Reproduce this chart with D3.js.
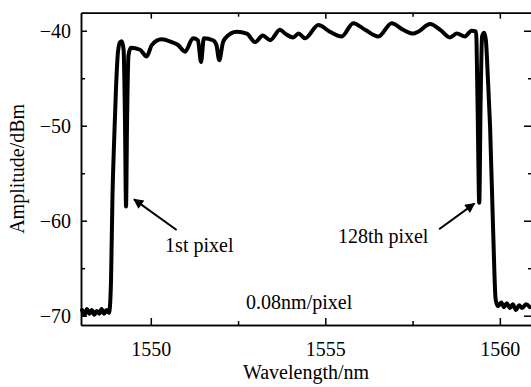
<!DOCTYPE html>
<html>
<head>
<meta charset="utf-8">
<script src="https://cdn.jsdelivr.net/npm/d3@7"></script>
<style>
    body { margin: 0; background: #fff; }
    svg { display: block; font-family: "Liberation Serif", "Times New Roman", serif; }
</style>
</head>
<body>
<svg id="spectrum-svg" width="531" height="387"></svg>
<script>
// Measured spectrum (wavelength in nm, amplitude in dBm)
const wavelength = [
    1548.03, 1548.10, 1548.17, 1548.24, 1548.31, 1548.38, 1548.45, 1548.52,
    1548.59, 1548.66, 1548.73, 1548.80, 1548.83,
    1548.86, 1548.90, 1548.95, 1549.00, 1549.06, 1549.12, 1549.17, 1549.22,
    1549.26, 1549.29, 1549.32, 1549.36, 1549.43, 1549.69, 1549.88, 1550.03,
    1550.31, 1550.60, 1550.78, 1550.98, 1551.21, 1551.35, 1551.44, 1551.52,
    1551.78, 1551.88, 1551.96, 1552.07, 1552.13, 1552.46, 1552.75, 1552.99,
    1553.21, 1553.42, 1553.70, 1553.85, 1554.08, 1554.23, 1554.42, 1554.80,
    1555.13, 1555.47, 1555.80, 1556.14, 1556.52, 1556.90, 1557.23, 1557.52,
    1557.66, 1558.00, 1558.29, 1558.57, 1558.77, 1559.00, 1559.19, 1559.32,
    1559.36, 1559.41, 1559.45, 1559.49, 1559.55, 1559.60, 1559.66, 1559.72,
    1559.81, 1559.88, 1559.95, 1560.04, 1560.12, 1560.20, 1560.29, 1560.37,
    1560.46, 1560.55, 1560.64, 1560.75, 1560.86
];
const amplitude = [
    -69.4, -69.9, -69.3, -69.8, -69.4, -69.9, -69.5, -69.8,
    -69.3, -69.8, -69.4, -69.7, -69.0,
    -66.3, -57.8, -51.5, -46.3, -42.2, -41.2, -41.1, -42.0,
    -49.4, -58.5, -49.4, -42.6, -41.8, -42.0, -42.7, -41.5,
    -40.9, -41.2, -41.5, -42.2, -40.8, -41.0, -43.3, -40.8,
    -41.0, -41.5, -43.1, -41.2, -40.8, -40.1, -40.3, -41.2,
    -40.5, -41.0, -39.9, -40.3, -40.7, -40.3, -40.8, -39.4,
    -40.1, -40.6, -39.2, -39.9, -40.6, -39.2, -39.9, -40.3,
    -40.1, -39.3, -39.9, -40.7, -40.3, -40.6, -40.0, -40.1,
    -47.3, -58.1, -47.3, -40.6, -40.2, -41.0, -45.2, -50.1,
    -61.3, -68.3, -69.0, -68.6, -69.1, -68.7, -69.2, -68.8,
    -69.4, -68.9, -69.2, -68.8, -69.1
];

// Axis ticks
const xMajorTicks = [1550, 1555, 1560];
const xMinorTicks = [1552.5, 1557.5];
const yMajorTicks = [-40, -50, -60, -70];
const yMinorTicks = [-45, -55, -65];

// Annotations: text anchor point and arrow (from -> tip), in data units
const annoText = ["1st pixel", "128th pixel", "0.08nm/pixel"];
const annoX = [1550.41, 1555.36, 1552.73];
const annoY = [-63.3, -62.3, -69.3];
const arrowFrom = [[1550.74, -60.98], [1558.26, -60.9]];
const arrowTo = [[1549.52, -57.75], [1559.27, -58.2]];

const size = {
    width: 531,
    height: 387,
    margin: { top: 12.7, right: -2, bottom: 62, left: 81 }
};

const svg = d3.select('#spectrum-svg');

const xScale = d3.scaleLinear()
    .domain([1548, 1560.95])
    .range([size.margin.left, size.width - size.margin.right]);

const yScale = d3.scaleLinear()
    .domain([-70.98, -38.1])
    .range([size.height - size.margin.bottom, size.margin.top]);

const x0 = xScale.range()[0], x1 = xScale.range()[1];
const y0 = yScale.range()[0], y1 = yScale.range()[1];

// Arrow head marker
svg.append("defs").append("marker")
    .attr("id", "arrow")
    .attr("viewBox", "0 0 10 10")
    .attr("refX", 9)
    .attr("refY", 5)
    .attr("markerWidth", 6)
    .attr("markerHeight", 5)
    .attr("markerUnits", "strokeWidth")
    .attr("orient", "auto")
    .append("path")
    .attr("d", "M0,0 L10,5 L0,10 z")
    .attr("fill", "#000");

// Frame axes (ticks pointing inward)
function styleAxis(g) {
    g.select(".domain").attr("stroke-width", 1.5);
    g.selectAll(".tick line").attr("stroke-width", 1.5);
    g.selectAll(".tick text").attr("font-size", 20).attr("fill", "#000");
    g.attr("font-family", null);
}

// bottom
svg.append("g")
    .attr("transform", `translate(0, ${y0})`)
    .call(d3.axisBottom(xScale).tickValues(xMajorTicks).tickFormat(d3.format("d"))
        .tickSize(-7).tickPadding(17).tickSizeOuter(0))
    .call(styleAxis);
svg.append("g")
    .attr("transform", `translate(0, ${y0})`)
    .call(d3.axisBottom(xScale).tickValues(xMinorTicks).tickSize(-4).tickFormat("").tickSizeOuter(0))
    .call(styleAxis);

// top
svg.append("g")
    .attr("transform", `translate(0, ${y1})`)
    .call(d3.axisTop(xScale).tickValues(xMajorTicks).tickSize(-6).tickFormat("").tickSizeOuter(0))
    .call(styleAxis);
svg.append("g")
    .attr("transform", `translate(0, ${y1})`)
    .call(d3.axisTop(xScale).tickValues(xMinorTicks).tickSize(-4).tickFormat("").tickSizeOuter(0))
    .call(styleAxis);

// left
svg.append("g")
    .attr("transform", `translate(${x0}, 0)`)
    .call(d3.axisLeft(yScale).tickValues(yMajorTicks).tickSize(-6).tickPadding(10).tickSizeOuter(0))
    .call(styleAxis);
svg.append("g")
    .attr("transform", `translate(${x0}, 0)`)
    .call(d3.axisLeft(yScale).tickValues(yMinorTicks).tickSize(-4).tickFormat("").tickSizeOuter(0))
    .call(styleAxis);

// right
svg.append("g")
    .attr("transform", `translate(${x1}, 0)`)
    .call(d3.axisRight(yScale).tickValues(yMajorTicks).tickSize(-9).tickFormat("").tickSizeOuter(0))
    .call(styleAxis);
svg.append("g")
    .attr("transform", `translate(${x1}, 0)`)
    .call(d3.axisRight(yScale).tickValues(yMinorTicks).tickSize(-5).tickFormat("").tickSizeOuter(0))
    .call(styleAxis);

// Spectrum line
const points = wavelength.map((w, i) => [w, amplitude[i]]);
const line = d3.line()
    .x(d => xScale(d[0]))
    .y(d => yScale(d[1]))
    .curve(d3.curveMonotoneX);

svg.append("path")
    .datum(points)
    .attr("d", line)
    .attr("fill", "none")
    .attr("stroke", "#000")
    .attr("stroke-width", 4)
    .attr("stroke-linejoin", "round")
    .attr("stroke-linecap", "round");

// Arrows
svg.selectAll(".arrow")
    .data(arrowFrom.map((f, i) => [f, arrowTo[i]]))
    .join("line")
    .attr("class", "arrow")
    .attr("x1", d => xScale(d[0][0]))
    .attr("y1", d => yScale(d[0][1]))
    .attr("x2", d => xScale(d[1][0]))
    .attr("y2", d => yScale(d[1][1]))
    .attr("stroke", "#000")
    .attr("stroke-width", 2)
    .attr("marker-end", "url(#arrow)");

// Annotation texts
svg.selectAll(".anno")
    .data(annoText)
    .join("text")
    .attr("class", "anno")
    .attr("x", (d, i) => xScale(annoX[i]))
    .attr("y", (d, i) => yScale(annoY[i]))
    .attr("font-size", 20)
    .text(d => d);

// Axis labels
svg.append("text")
    .attr("x", (x0 + 531) / 2)
    .attr("y", 379)
    .attr("text-anchor", "middle")
    .attr("font-size", 20)
    .text("Wavelength/nm");

svg.append("text")
    .attr("transform", "rotate(-90)")
    .attr("x", -(y0 + y1) / 2)
    .attr("y", 24)
    .attr("text-anchor", "middle")
    .attr("font-size", 20)
    .text("Amplitude/dBm");
</script>
</body>
</html>
